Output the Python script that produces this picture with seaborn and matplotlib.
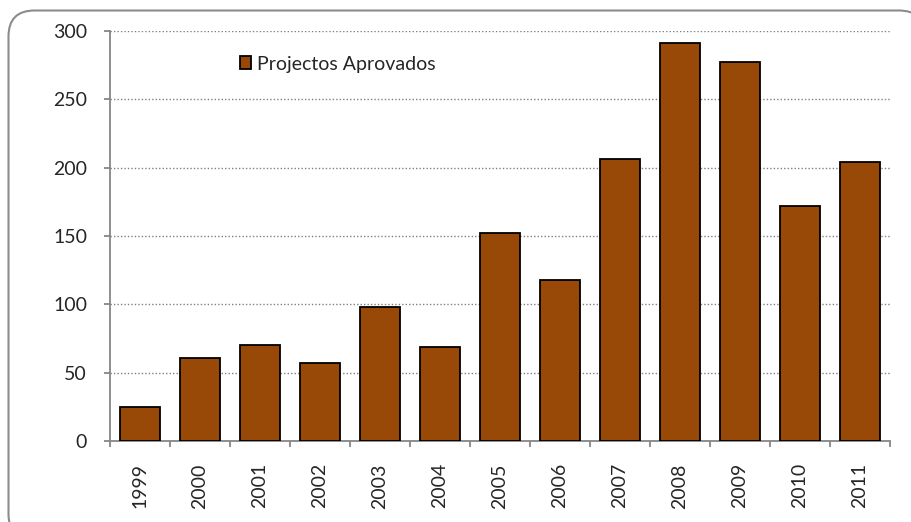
import matplotlib
matplotlib.use("Agg")
import matplotlib.pyplot as plt
import seaborn as sns
import numpy as np
import pandas as pd
from matplotlib.patches import FancyBboxPatch

years = ["1999", "2000", "2001", "2002", "2003", "2004", "2005",
         "2006", "2007", "2008", "2009", "2010", "2011"]
values = [25, 61, 70, 57, 98, 69, 152, 118, 206, 291, 277, 172, 204]
series_name = "Projectos Aprovados"
y_ticks = [0, 50, 100, 150, 200, 250, 300]

sns.set_theme(style="white")
plt.rcParams["font.family"] = ["Lato", "DejaVu Sans"]

df = pd.DataFrame({"year": years, "value": values})

fig = plt.figure(figsize=(9.12, 5.22), dpi=100)
W, H = 912, 522
ax = fig.add_axes([110 / W, 1 - 441 / H, (890 - 110) / W, (441 - 31) / H])

# rounded outer frame (extends past right and bottom edges, as in the reference)
r = 26
frame = FancyBboxPatch((8.5 / W, (H - 540) / H), (925 - 8.5) / W, (540 - 10.5) / H,
                       boxstyle=f"round,pad=0,rounding_size={r / W}",
                       mutation_aspect=W / H,
                       transform=fig.transFigure, fill=True, facecolor="white",
                       edgecolor="#8c8c8c", linewidth=1.5, zorder=-1)
fig.add_artist(frame)

sns.barplot(data=df, x="year", y="value", color="#984807", width=0.67,
            edgecolor="black", linewidth=1.3, saturation=1,
            label=series_name, ax=ax, zorder=3)
ax.patch.set_alpha(0)

ax.set_ylim(0, 300)
ax.set_xlim(-0.5, len(years) - 0.5)
ax.set_yticks(y_ticks)
ax.set_yticklabels([str(v) for v in y_ticks], fontsize=14)
ax.set_xlabel("")
ax.set_ylabel("")

# gridlines
for v in y_ticks[1:]:
    ax.axhline(v, color="#808080", linestyle=(0, (1, 1.5)), linewidth=1.0, zorder=1)

for s in ["top", "right"]:
    ax.spines[s].set_visible(False)
for s in ["left", "bottom"]:
    ax.spines[s].set_color("#868686")
    ax.spines[s].set_linewidth(1.3)

ax.set_xticks(range(len(years)))
ax.set_xticklabels(years, rotation=90, fontsize=14)
ax.set_xticks(np.arange(-0.5, len(years), 1.0), minor=True)
ax.tick_params(axis="x", which="major", length=0, pad=16)
ax.tick_params(axis="x", which="minor", length=4.5, color="#868686", width=1.3, direction="out", bottom=True)
ax.tick_params(axis="y", which="major", length=4.5, color="#868686", width=1.3, direction="out", left=True, pad=12)

leg = ax.legend(loc="center left", bbox_to_anchor=(0.144, (441 - 64) / 410), frameon=False,
                fontsize=14, handlelength=0.6, handleheight=0.6, handletextpad=0.3)

fig.savefig("out.png", dpi=100)
